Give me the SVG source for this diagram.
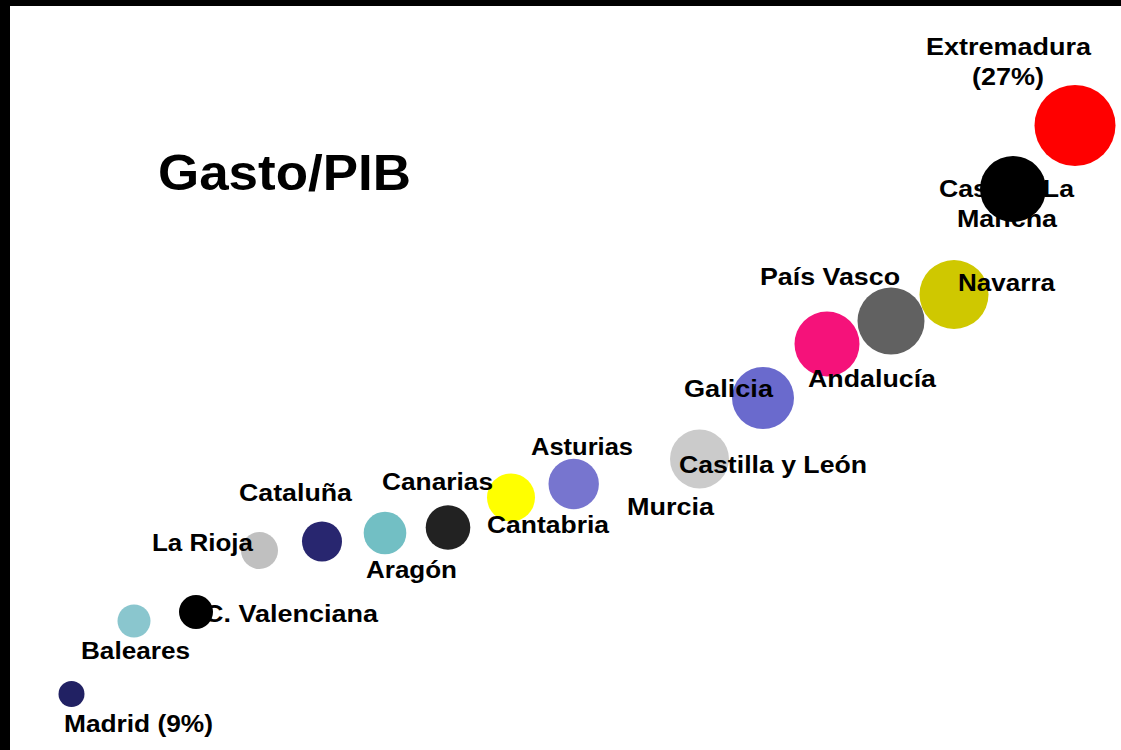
<svg xmlns="http://www.w3.org/2000/svg" width="1121" height="750" viewBox="0 0 1121 750">
<style>
text{font-family:"Liberation Sans",Arial,sans-serif;font-weight:bold;fill:#000;font-size:23px}
.title{font-size:50px}
</style>
<rect width="1121" height="750" fill="#fff"/>
<rect x="0" y="0" width="1121" height="6" fill="#000"/>
<rect x="0" y="0" width="10" height="750" fill="#000"/>
<g id="title"><text class="title" x="158" y="190" textLength="253" lengthAdjust="spacingAndGlyphs">Gasto/PIB</text></g>
<g id="madrid"><circle cx="71.5" cy="694" r="13" fill="#212163"/><text x="64" y="732" textLength="149" lengthAdjust="spacingAndGlyphs">Madrid (9%)</text></g>
<g id="baleares"><circle cx="134" cy="621" r="16.5" fill="#8ac6ce"/><text x="81" y="659" textLength="109" lengthAdjust="spacingAndGlyphs">Baleares</text></g>
<g id="c-valenciana"><circle cx="196" cy="612" r="17" fill="#000"/><text x="204" y="622" textLength="174" lengthAdjust="spacingAndGlyphs">C. Valenciana</text></g>
<g id="la-rioja"><circle cx="259.5" cy="550.5" r="18.5" fill="#c0c0c0"/><text x="152" y="551" textLength="101" lengthAdjust="spacingAndGlyphs">La Rioja</text></g>
<g id="cataluna"><circle cx="322" cy="541.5" r="20" fill="#28266f"/><text x="239" y="501" textLength="113" lengthAdjust="spacingAndGlyphs">Cataluña</text></g>
<g id="aragon"><circle cx="385" cy="533" r="21.3" fill="#72bfc4"/><text x="366" y="578" textLength="91" lengthAdjust="spacingAndGlyphs">Aragón</text></g>
<g id="cantabria"><circle cx="511" cy="497.5" r="24" fill="#ffff00"/><text x="487" y="533" textLength="122" lengthAdjust="spacingAndGlyphs">Cantabria</text></g>
<g id="canarias"><circle cx="448" cy="527.5" r="22.3" fill="#222"/><text x="382" y="490" textLength="111" lengthAdjust="spacingAndGlyphs">Canarias</text></g>
<g id="asturias"><circle cx="573.7" cy="484" r="25.2" fill="#7775cf"/><text x="531" y="455" textLength="102" lengthAdjust="spacingAndGlyphs">Asturias</text></g>
<g id="castilla-y-leon"><circle cx="699.5" cy="459" r="29.5" fill="#cbcbcb"/><text x="679" y="473" textLength="188" lengthAdjust="spacingAndGlyphs">Castilla y León</text></g>
<g id="murcia"><text x="627" y="515" textLength="87" lengthAdjust="spacingAndGlyphs">Murcia</text></g>
<g id="galicia"><circle cx="763" cy="398" r="31" fill="#6a6acd"/><text x="684" y="397" textLength="89" lengthAdjust="spacingAndGlyphs">Galicia</text></g>
<g id="andalucia"><circle cx="827" cy="344" r="32.5" fill="#f5127a"/><text x="808" y="387" textLength="128" lengthAdjust="spacingAndGlyphs">Andalucía</text></g>
<g id="pais-vasco"><circle cx="891" cy="321" r="33.5" fill="#616161"/><text x="760" y="285" textLength="140" lengthAdjust="spacingAndGlyphs">País Vasco</text></g>
<g id="navarra"><circle cx="954" cy="294.5" r="34.5" fill="#cfc800"/><text x="958" y="291" textLength="97" lengthAdjust="spacingAndGlyphs">Navarra</text></g>
<g id="castilla-la-mancha"><text x="939" y="197" textLength="135" lengthAdjust="spacingAndGlyphs">Castilla-La</text><text x="957" y="227" textLength="100" lengthAdjust="spacingAndGlyphs">Mancha</text><circle cx="1013" cy="189" r="33" fill="#000"/></g>
<g id="extremadura"><circle cx="1075" cy="125.5" r="40.5" fill="#ff0000"/><text x="926" y="55" textLength="165" lengthAdjust="spacingAndGlyphs">Extremadura</text><text x="972" y="85" textLength="72" lengthAdjust="spacingAndGlyphs">(27%)</text></g>
</svg>
